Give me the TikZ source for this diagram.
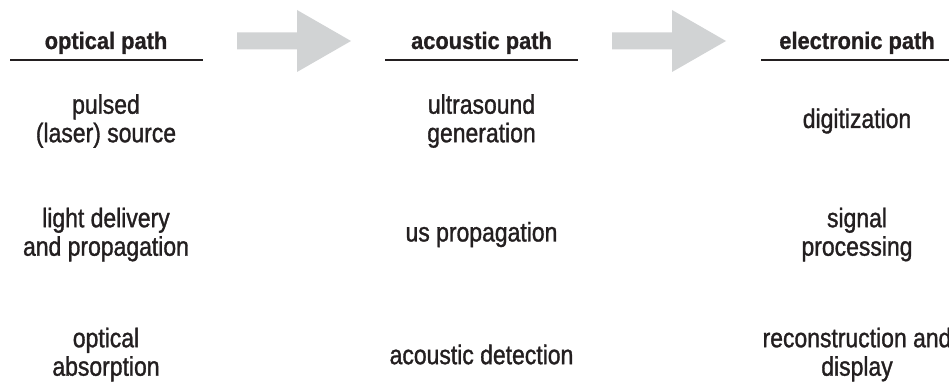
\documentclass[tikz,border=0pt]{standalone}
\usepackage{fontspec}
\setmainfont{Liberation Sans}
\newfontfamily\narrowfont[FakeStretch=0.85,FakeBold=1.2]{Liberation Sans}
\newfontfamily\headfont[FakeStretch=0.91,FakeBold=0.8]{Liberation Sans Bold}
\definecolor{textgray}{RGB}{35,31,32}
\definecolor{arrowgray}{RGB}{209,211,212}

\begin{document}
\begin{tikzpicture}[
  x=1pt, y=1pt,
  header/.style={
    anchor=base,
    inner sep=0pt,
    text=textgray,
    font=\headfont\fontsize{24}{28}\selectfont
  },
  stage/.style={
    align=center,
    inner sep=0pt,
    text=textgray,
    font=\narrowfont\fontsize{27}{28.5}\selectfont
  },
  rule/.style={draw=textgray, line width=2pt},
  bigarrow/.style={fill=arrowgray, draw=none}
]
\useasboundingbox (0,0) rectangle (949,385);

% Column headers
\node[header] (optical) at (106,336) {optical path};
\node[header] (acoustic) at (481.5,336) {acoustic path};
\node[header] (electronic) at (857,336) {electronic path};

% Rules under the headers
\draw[rule] (10,325) -- (203,325);
\draw[rule] (385,325) -- (578,325);
\draw[rule] (761,325) -- (954,325);

% Block arrows between the paths
\coordinate (arr1) at (237,344);
\coordinate (arr2) at (612,344);
\fill[bigarrow] (arr1) ++(0,8.5) -- ++(60,0) -- ++(0,22.5) -- ++(54,-31)
  -- ++(-54,-31) -- ++(0,22.5) -- ++(-60,0) -- cycle;
\fill[bigarrow] (arr2) ++(0,8.5) -- ++(60,0) -- ++(0,22.5) -- ++(54,-31)
  -- ++(-54,-31) -- ++(0,22.5) -- ++(-60,0) -- cycle;

% Optical path
\node[stage] (source) at (106,264) {pulsed\\(laser) source};
\node[stage] (delivery) at (106,150.5) {light delivery\\and propagation};
\node[stage] (absorb) at (106,30.5) {optical\\absorption};

% Acoustic path
\node[stage] (usgen) at (481.5,264) {ultrasound\\generation};
\node[stage] (usprop) at (481.5,150.5) {us propagation};
\node[stage] (detect) at (481.5,30.5) {acoustic detection};

% Electronic path
\node[stage] (digit) at (857,264) {digitization};
\node[stage] (signal) at (857,150.5) {signal\\processing};
\node[stage] (recon) at (857,30.5) {reconstruction and\\display};

\end{tikzpicture}
\end{document}
